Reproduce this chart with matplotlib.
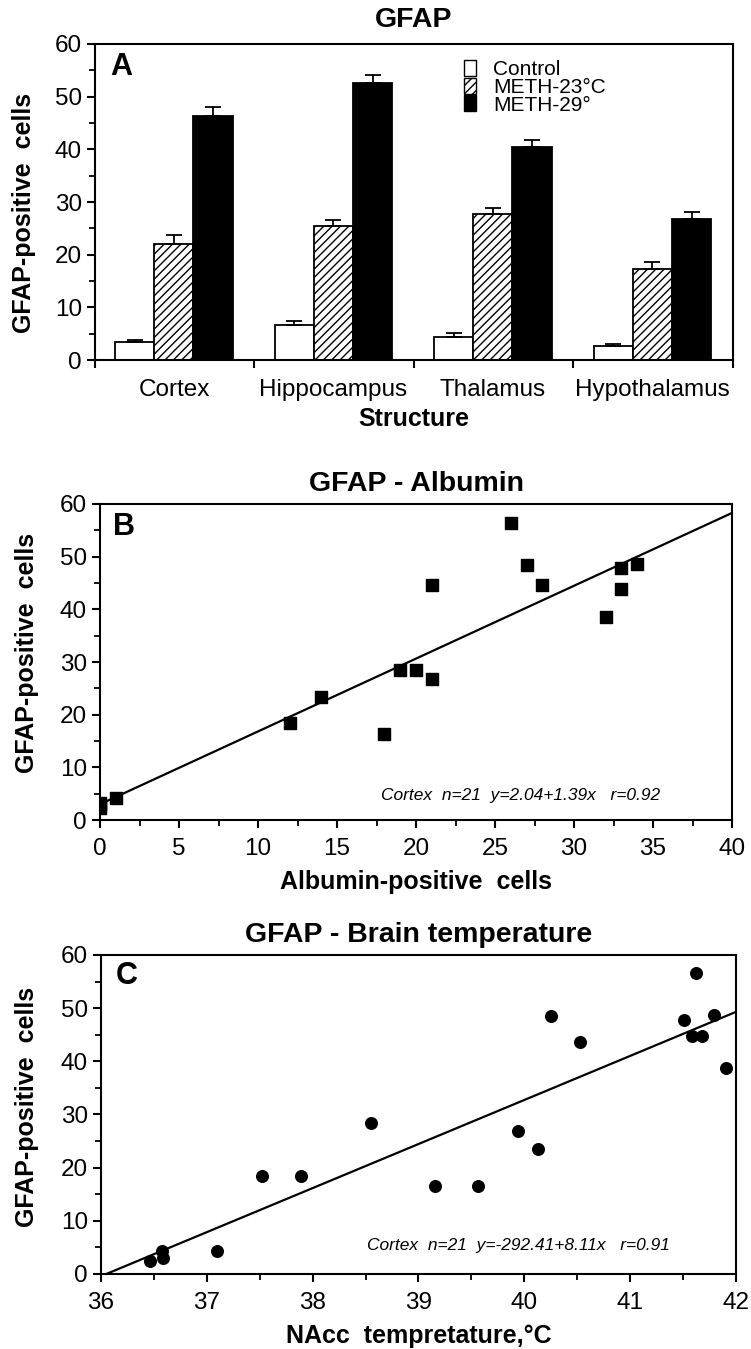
import matplotlib.pyplot as plt
import numpy as np
from matplotlib.patches import Patch
from matplotlib.ticker import MultipleLocator, FixedLocator

plt.rcParams['font.family'] = ['Liberation Sans', 'DejaVu Sans']
plt.rcParams['hatch.linewidth'] = 1.0
plt.rcParams['axes.linewidth'] = 1.5

# panel A - bars
structures = ['Cortex', 'Hippocampus', 'Thalamus', 'Hypothalamus']
control = [3.5, 6.7, 4.3, 2.6]
control_err = [0.3, 0.7, 0.8, 0.4]
meth23 = [22.0, 25.5, 27.8, 17.2]
meth23_err = [1.8, 1.0, 1.0, 1.4]
meth29 = [46.3, 52.5, 40.5, 26.8]
meth29_err = [1.7, 1.6, 1.3, 1.3]

# panel B - albumin vs gfap
albumin = [0, 0, 0, 1, 12, 14, 18, 19, 20, 21, 21, 26, 27, 28, 32, 33, 33, 34]
gfap_b = [3.3, 2.2, 2.8, 4.2, 18.5, 23.3, 16.3, 28.5, 28.5, 26.7, 44.6,
          56.4, 48.4, 44.7, 38.6, 47.8, 43.8, 48.6]
fit_b_x = [0, 40]
fit_b_y = [3.0, 58.3]

# panel C - temperature vs gfap
temp = [36.46, 36.58, 36.59, 37.10, 37.52, 37.89, 38.55, 39.16, 39.56, 39.94,
        40.13, 40.25, 40.53, 41.51, 41.58, 41.62, 41.68, 41.79, 41.91]
gfap_c = [2.4, 4.3, 3.0, 4.3, 18.5, 18.5, 28.4, 16.6, 16.6, 26.8,
          23.5, 48.6, 43.6, 47.7, 44.8, 56.7, 44.8, 48.8, 38.7]
fit_c_x = [36.05, 42]
fit_c_y = [0, 49.3]

fig = plt.figure(figsize=(7.51, 13.49), dpi=100)
axA = fig.add_axes([0.1265, 0.7331, 0.8495, 0.2343])
axB = fig.add_axes([0.1332, 0.3921, 0.8415, 0.2343])
axC = fig.add_axes([0.1345, 0.0556, 0.8455, 0.2365])

tick_fs = 17.5
lab_fs = 18
title_fs = 20.5
narrow = ['Liberation Sans Narrow', 'Liberation Sans', 'DejaVu Sans']

# ---- A
centers = np.arange(len(structures)) + 0.495
w = 0.245
ekw = dict(ecolor='black', elinewidth=1.3, capsize=6, capthick=1.3)
axA.bar(centers - w, control, w, color='white', edgecolor='black', linewidth=1.3,
        yerr=[np.zeros(4), control_err], error_kw=ekw)
axA.bar(centers, meth23, w, color='white', edgecolor='black', hatch='////', linewidth=1.3,
        yerr=[np.zeros(4), meth23_err], error_kw=ekw)
axA.bar(centers + w, meth29, w, color='black', edgecolor='black', linewidth=1.3,
        yerr=[np.zeros(4), meth29_err], error_kw=ekw)
axA.set_xlim(0, 4)
axA.set_ylim(0, 60)
axA.xaxis.set_major_locator(FixedLocator([0, 1, 2, 3, 4]))
axA.xaxis.set_minor_locator(FixedLocator(list(centers)))
axA.set_xticklabels([])
axA.set_xticklabels(structures, minor=True)
axA.tick_params(axis='x', which='minor', length=0, labelsize=tick_fs, pad=14)
axA.tick_params(axis='x', which='major', length=6, width=1.5)
axA.set_title('GFAP', fontsize=title_fs, fontweight='bold', pad=12)
axA.set_xlabel('Structure', fontsize=lab_fs, fontweight='bold', labelpad=4)
axA.text(0.094, 55.6, 'A', fontsize=22, fontweight='bold', va='center')
handles = [Patch(facecolor='white', edgecolor='black', label='Control'),
           Patch(facecolor='white', edgecolor='black', hatch='////', label='METH-23°C'),
           Patch(facecolor='black', edgecolor='black', label='METH-29°')]
axA.legend(handles=handles, loc='upper left', bbox_to_anchor=(0.565, 0.975), frameon=False,
           fontsize=15, handlelength=0.6, handleheight=0.8, handletextpad=0.8, labelspacing=-0.08,
           borderaxespad=0)

# ---- B
axB.scatter(albumin, gfap_b, marker='s', s=80, color='black', zorder=3)
axB.plot(fit_b_x, fit_b_y, color='black', linewidth=1.6)
axB.set_xlim(0, 40)
axB.set_ylim(0, 60)
axB.xaxis.set_major_locator(MultipleLocator(5))
axB.xaxis.set_minor_locator(MultipleLocator(2.5))
axB.set_title('GFAP - Albumin', fontsize=title_fs, fontweight='bold', pad=9)
axB.set_xlabel('Albumin-positive  cells', fontsize=lab_fs, fontweight='bold', labelpad=7)
axB.text(0.82, 55.6, 'B', fontsize=22, fontweight='bold', va='center')
axB.text(17.8, 4.6, 'Cortex  n=21  y=2.04+1.39x   r=0.92', fontsize=12.5, style='italic',
         va='center', family=narrow)

# ---- C
axC.scatter(temp, gfap_c, marker='o', s=70, color='black', zorder=3)
axC.plot(fit_c_x, fit_c_y, color='black', linewidth=1.6)
axC.set_xlim(36, 42)
axC.set_ylim(0, 60)
axC.xaxis.set_major_locator(MultipleLocator(1))
axC.xaxis.set_minor_locator(MultipleLocator(0.5))
axC.set_title('GFAP - Brain temperature', fontsize=title_fs, fontweight='bold', pad=9)
axC.set_xlabel('NAcc  tempretature,°C', fontsize=lab_fs, fontweight='bold', labelpad=7)
axC.text(36.14, 56.0, 'C', fontsize=22, fontweight='bold', va='center')
axC.text(38.51, 5.45, 'Cortex  n=21  y=-292.41+8.11x   r=0.91', fontsize=12.5, style='italic',
         va='center', family=narrow)

ylab_pos = {axA: (-0.0925, 0.465), axB: (-0.0973, 0.528), axC: (-0.0984, 0.523)}
for ax in (axA, axB, axC):
    ax.yaxis.set_major_locator(MultipleLocator(10))
    ax.yaxis.set_minor_locator(MultipleLocator(5))
    ax.tick_params(axis='y', which='major', length=6, width=1.5, labelsize=tick_fs)
    ax.tick_params(axis='y', which='minor', length=4, width=1.3)
    ax.set_ylabel('GFAP-positive  cells', fontsize=lab_fs, fontweight='bold')
    ax.yaxis.set_label_coords(*ylab_pos[ax])
for ax in (axB, axC):
    ax.tick_params(axis='x', which='major', length=6, width=1.5, labelsize=tick_fs, pad=7)
    ax.tick_params(axis='x', which='minor', length=4, width=1.3)

plt.savefig('out.png', dpi=100)
